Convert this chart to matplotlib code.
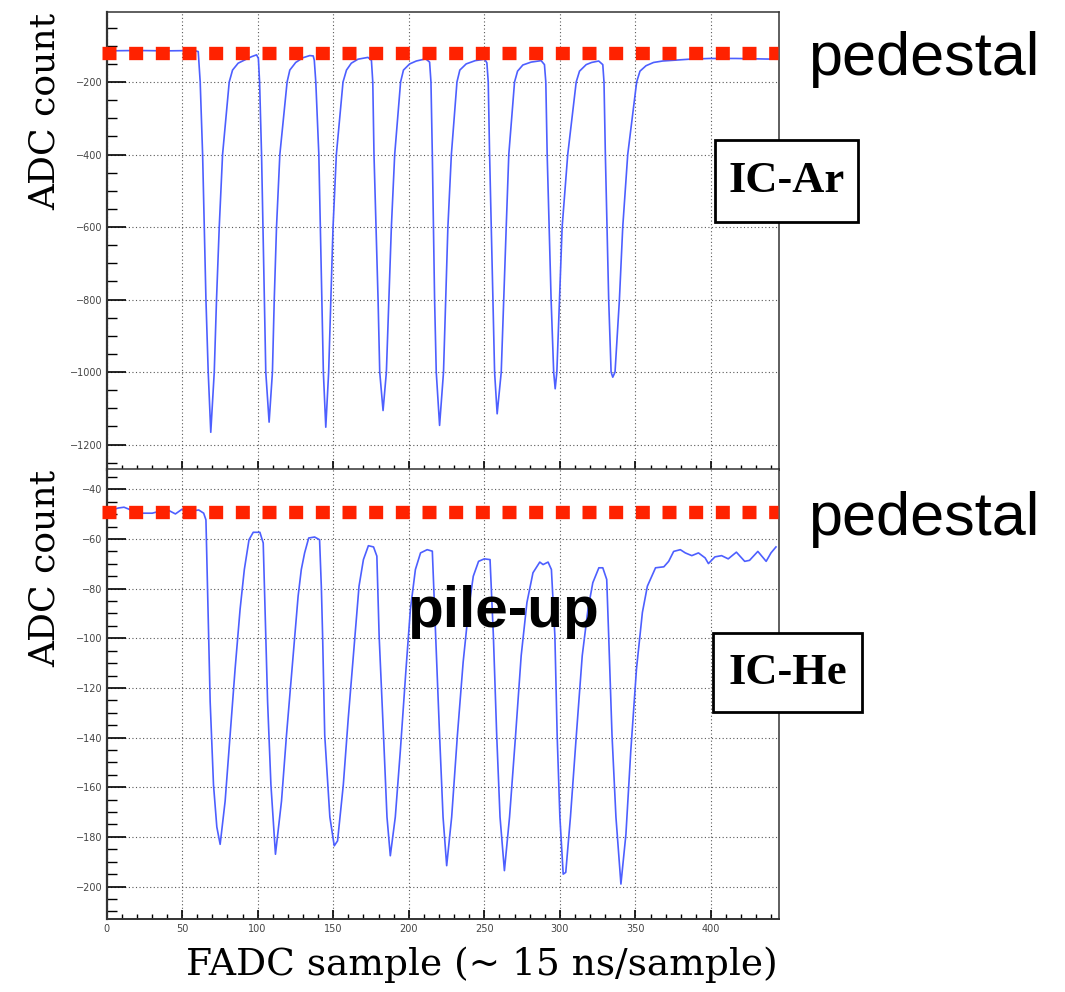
import matplotlib
matplotlib.use("Agg")
import matplotlib.pyplot as plt
from matplotlib.patches import Rectangle
from matplotlib.ticker import MultipleLocator

# FADC waveform of the argon ion chamber (sample, ADC count)
ar_x = [0, 20, 40, 58, 60.7,
        62, 63.6, 65.8, 67.3, 69,
        71.3, 72.8, 74.6, 76.8, 81.2, 83.4, 87.1, 91.5, 96, 99.3, 100.5,
        101.3, 102.6, 104, 105.4, 107.6,
        109.8, 111, 112.5, 114.7, 119.5, 121.3, 125.2, 130, 134.5, 136.8, 137.5,
        138.5, 140.5, 142.5, 143.5, 145.1,
        147, 149.9, 152.1, 156.5, 158.8, 162, 166.4, 173, 175.3,
        176.2, 177, 179.7, 180.8, 183,
        185.2, 188.5, 190.7, 194.6, 196.5, 200.6, 205, 211.2, 213.8,
        214.7, 215.6, 217.1, 218.2, 220.4,
        223, 225.9, 228.2, 231.9, 233.8, 238, 244, 250.2, 251.7,
        252.6, 253.5, 255.7, 256.8, 258.5,
        261.2, 264.5, 266.2, 270, 272, 275.5, 281, 287.6, 289.8,
        290.7, 291.6, 294.2, 295.9, 296.9,
        298, 301.5, 305.2, 310.8, 313, 317.4, 321, 325.7, 328.4,
        329.2, 330.1, 332.3, 333.9, 335,
        336.5, 339.4, 341.6, 344.9, 350.8, 353, 357, 362, 368, 385.7, 398.9, 416.5, 443]
ar_y = [-114, -113, -114, -113, -116,
        -200, -400, -800, -1000, -1166,
        -1000, -800, -600, -400, -200, -167, -148, -139, -130, -125, -135,
        -200, -400, -700, -1000, -1138,
        -1000, -800, -600, -400, -200, -167, -146, -133, -127, -128, -140,
        -200, -400, -800, -1000, -1152,
        -1000, -600, -400, -200, -167, -148, -137, -132, -140,
        -200, -400, -800, -1000, -1106,
        -1000, -600, -400, -200, -167, -150, -142, -136, -145,
        -200, -400, -800, -1000, -1147,
        -1000, -600, -400, -200, -167, -150, -141, -137, -147,
        -200, -400, -800, -1000, -1115,
        -1000, -600, -400, -200, -170, -153, -145, -141, -152,
        -200, -400, -800, -1000, -1046,
        -1000, -600, -400, -200, -170, -152, -146, -142, -152,
        -200, -400, -800, -1000, -1014,
        -1000, -800, -600, -400, -200, -170, -155, -146, -142, -137, -135, -135, -137]

# FADC waveform of the helium ion chamber (sample, ADC count)
he_x = [0, 1.8, 5, 8, 11.6, 14.9, 18, 23.7, 30.3, 34.6, 41.2, 45.6, 50, 55.5, 61, 64.3, 65.8,
        67.1, 68.6, 70.8, 73, 75.2, 78.5, 81.8, 85.1, 88.4, 91.2, 94.3, 97.1, 101.5, 103.7,
        104.8, 106.6, 108.8, 111.8, 115.8, 119.1, 123.5, 126.8, 128.9, 131.1, 133.8, 137.7, 141,
        142.2, 143, 144.4, 147.8, 150.7, 152.9, 156.7, 160, 164.4, 167.1, 170, 173.3, 176.7, 178.9,
        180.4, 183.3, 185.6, 187.8, 191.1, 194.4, 198.2, 201.1, 204.4, 207.8, 212.2, 215.6,
        217.8, 220.4, 222.7, 225.1, 228.4, 232.2, 236, 239.6, 242.7, 246.2, 250, 253.8,
        256, 258.2, 260.4, 263.3, 266.7, 270.7, 274.4, 278.2, 282.2, 286.7, 288.9, 292.2, 294.4,
        296.7, 298.2, 300, 302.2, 303.9, 307, 310.9, 314.8, 318.6, 321.8, 325.8, 328.4, 331,
        332.3, 334.5, 337.1, 340.4, 343.7, 346.9, 350.7, 354.6, 357.9, 363.3, 368.8, 372, 375.3,
        379.7, 383, 387.3, 391.7, 396.1, 398.3, 402.6, 407, 411.4, 416.8, 422.3, 425.5, 431,
        436.5, 439.7, 443]
he_y = [-49.5, -48.9, -48, -47.5, -47.2, -48, -49, -49.6, -49.6, -48.9, -48.5, -49.9, -48, -48.9, -48.3, -49.6, -52.3,
        -85.6, -125.6, -159, -176, -183, -165.6, -139, -112.3, -88.3, -72.3, -60.3, -57.3, -57.3, -61.6,
        -85.6, -125.6, -159, -187, -165.6, -139, -107, -83, -72.3, -65.6, -59.6, -59.2, -60.3,
        -80, -99, -139, -172, -183.6, -181.6, -159, -132, -99, -79, -68.3, -62.7, -63.2, -66.9,
        -99, -139, -172, -187.6, -172, -145.6, -112.3, -88.3, -72.3, -65.6, -64.3, -64.9,
        -99, -139, -172, -191.6, -172, -139, -109.6, -88.3, -75, -69, -68, -68.3,
        -99, -139, -172, -193.6, -172, -139, -107, -85.6, -73.6, -69.3, -70.3, -69.3, -72.3,
        -99, -139, -172, -195, -194.3, -172, -139, -107, -88.3, -77.6, -71.6, -71.6, -76.3,
        -99, -139, -172, -199, -179, -145.6, -112.3, -89.6, -79, -71.6, -71.2, -69, -65,
        -64.3, -65.6, -66.7, -65.6, -67.6, -69.9, -67.2, -66.7, -68, -65.3, -69, -68.6, -65,
        -69, -65.6, -63.2]

# pedestal levels marked by hand
ar_pedestal = -121
he_pedestal = -49

W, H = 1065, 992
fig = plt.figure(figsize=(W / 100, H / 100), dpi=100)

ax1 = fig.add_axes([106.5 / W, 1 - 470 / H, 672.5 / W, 458.3 / H])
ax2 = fig.add_axes([106.5 / W, 1 - 918.8 / H, 672.5 / W, 449.8 / H])

blue = "#4d5fff"
red = "#ff2200"

ax1.plot(ar_x, ar_y, color=blue, lw=1.2, zorder=3)
ax2.plot(he_x, he_y, color=blue, lw=1.2, zorder=3)

# red dotted pedestal lines (stick out a bit left of the frame)
for ax, ped in [(ax1, ar_pedestal), (ax2, he_pedestal)]:
    ax.plot([-3.2, 444.5], [ped, ped], color=red, lw=9.6,
            linestyle=(0, (1.05, 0.95)), dash_capstyle="butt",
            clip_on=False, zorder=5)

ax1.set_xlim(0, 445)
ax2.set_xlim(0, 445)
ax1.set_ylim(-1270, -6)
ax2.set_ylim(-213, -31.8)

ax1.yaxis.set_major_locator(MultipleLocator(200))
ax1.yaxis.set_minor_locator(MultipleLocator(50))
ax2.yaxis.set_major_locator(MultipleLocator(20))
ax2.yaxis.set_minor_locator(MultipleLocator(5))
for ax in (ax1, ax2):
    ax.xaxis.set_major_locator(MultipleLocator(50))
    ax.xaxis.set_minor_locator(MultipleLocator(10))
    ax.grid(True, which="major", linestyle=(0, (1, 2.2)), color="0.35", lw=0.8)
    ax.tick_params(axis="y", which="major", direction="in", length=14, width=1.2,
                   labelsize=7, labelcolor="#444444", pad=3)
    ax.tick_params(axis="y", which="minor", direction="in", length=7, width=1)
    ax.tick_params(axis="x", which="major", direction="in", length=6.5, width=1.2,
                   labelsize=7, labelcolor="#444444", pad=4)
    ax.tick_params(axis="x", which="minor", direction="in", length=3.5, width=1)
    for s in ax.spines.values():
        s.set_color("#333333")
        s.set_linewidth(1.1)
    ax.spines["left"].set_linewidth(1.6)
    ax.spines["bottom"].set_linewidth(1.4)
ax1.tick_params(labelbottom=False)

# axis titles
fig.text(45 / W, 1 - 13 / H, "ADC count", family="DejaVu Serif", fontsize=26,
         rotation=90, ha="center", va="top")
fig.text(45 / W, 1 - 470 / H, "ADC count", family="DejaVu Serif", fontsize=26,
         rotation=90, ha="center", va="top")
fig.text(482 / W, 1 - 965 / H, "FADC sample (~ 15 ns/sample)", family="DejaVu Serif",
         fontsize=27, ha="center", va="center")

# annotations
fig.text(808 / W, 1 - 75 / H, "pedestal", family="Liberation Sans", fontsize=44,
         ha="left", va="baseline")
fig.text(808 / W, 1 - 535 / H, "pedestal", family="Liberation Sans", fontsize=44,
         ha="left", va="baseline")
fig.text(407 / W, 1 - 627 / H, "pile-up", family="Liberation Sans", fontweight="bold",
         fontsize=42, ha="left", va="baseline", zorder=12)

for x0, y0, x1, y1, label in [(715, 140, 858, 222, "IC-Ar"), (713, 633, 862, 712, "IC-He")]:
    fig.add_artist(Rectangle((x0 / W, 1 - y1 / H), (x1 - x0) / W, (y1 - y0) / H,
                             transform=fig.transFigure, facecolor="white",
                             edgecolor="black", lw=2, zorder=10))
    fig.text((x0 + x1) / 2 / W, 1 - (y0 + y1) / 2 / H, label, family="Liberation Serif",
             fontweight="bold", fontsize=32, ha="center", va="center", zorder=11)

fig.savefig("out.png", dpi=100)
